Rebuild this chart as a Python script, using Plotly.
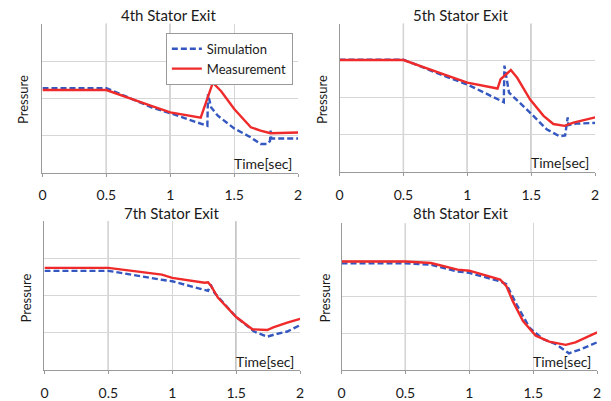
import plotly.graph_objects as go

W, H = 611, 401

titles = ["4th Stator Exit", "5th Stator Exit", "7th Stator Exit", "8th Stator Exit"]
tick_vals = [0, 0.5, 1, 1.5, 2]
tick_text = ["0", "0.5", "1", "1.5", "2"]

# Panel 1 (4th stator)
t_sim1 = [0, 0.5, 0.857, 1.0, 1.27, 1.29, 1.295, 1.32, 1.372, 1.5, 1.63, 1.706, 1.757, 1.78, 1.785, 1.79, 1.85, 2.0]
p_sim1 = [2.27, 2.27, 1.75, 1.60, 1.28, 1.26, 2.11, 1.75, 1.53, 1.19, 0.95, 0.77, 0.77, 0.85, 1.13, 0.92, 0.92, 0.92]
t_meas1 = [0, 0.5, 0.857, 1.0, 1.238, 1.333, 1.398, 1.5, 1.63, 1.706, 1.784, 1.887, 1.99, 2.0]
p_meas1 = [2.22, 2.22, 1.79, 1.62, 1.48, 2.42, 2.19, 1.71, 1.22, 1.13, 1.06, 1.06, 1.08, 1.08]

# Panel 2 (5th stator)
t_sim2 = [0, 0.5, 0.849, 1.0, 1.274, 1.285, 1.29, 1.326, 1.49, 1.62, 1.72, 1.765, 1.785, 1.79, 1.85, 2.0]
p_sim2 = [3.03, 3.03, 2.55, 2.36, 1.90, 1.88, 2.87, 2.14, 1.60, 1.15, 0.96, 0.98, 1.47, 1.26, 1.30, 1.32]
t_meas2 = [0, 0.5, 0.849, 1.0, 1.236, 1.26, 1.34, 1.39, 1.49, 1.596, 1.673, 1.76, 1.83, 1.905, 2.0]
p_meas2 = [3.02, 3.02, 2.59, 2.41, 2.25, 2.50, 2.75, 2.54, 1.96, 1.51, 1.29, 1.24, 1.33, 1.40, 1.47]

# Panel 3 (7th stator)
t_sim3 = [0, 0.5, 0.919, 1.0, 1.28, 1.30, 1.33, 1.5, 1.64, 1.743, 1.8, 1.9, 2.0]
p_sim3 = [2.67, 2.67, 2.43, 2.39, 2.13, 2.30, 2.08, 1.43, 1.04, 0.90, 0.96, 1.04, 1.21]
t_meas3 = [0, 0.5, 0.919, 1.0, 1.253, 1.28, 1.305, 1.357, 1.5, 1.627, 1.743, 1.79, 1.9, 2.0]
p_meas3 = [2.75, 2.75, 2.57, 2.48, 2.35, 2.36, 2.26, 1.95, 1.43, 1.10, 1.08, 1.15, 1.28, 1.38]

# Panel 4 (8th stator)
t_sim4 = [0, 0.5, 0.7, 0.908, 1.0, 1.241, 1.29, 1.37, 1.47, 1.575, 1.677, 1.78, 1.88, 2.0]
p_sim4 = [2.91, 2.91, 2.87, 2.69, 2.65, 2.42, 2.34, 1.79, 1.16, 0.85, 0.71, 0.46, 0.58, 0.76]
t_meas4 = [0, 0.5, 0.7, 0.908, 1.0, 1.241, 1.29, 1.34, 1.42, 1.52, 1.625, 1.754, 1.83, 2.0]
p_meas4 = [2.96, 2.96, 2.92, 2.74, 2.71, 2.47, 2.29, 1.88, 1.34, 0.94, 0.78, 0.69, 0.76, 1.03]

panels = [
    (t_sim1, p_sim1, t_meas1, p_meas1),
    (t_sim2, p_sim2, t_meas2, p_meas2),
    (t_sim3, p_sim3, t_meas3, p_meas3),
    (t_sim4, p_sim4, t_meas4, p_meas4),
]

# darker vertical grid lines per panel (as in the scanned figure)
dark_lines = [[0.5, 1.0], [0.5, 1.0, 1.5], [0.5, 1.5], [0.5]]

BLUE = "#3457c0"
RED = "#ee2a2a"
FONT = "Lato"

# pixel geometry
xdom_px = [(39, 298), (340, 599), (41, 300), (342, 601)]
ydom_px = [(24, 174), (24, 173), (223, 373), (225, 373)]
title_px = [(167, 15), (463, 15), (170, 215), (463, 215)]
ylab_px = [(20, 100), (322, 100), (22, 300), (325, 300)]

fig = go.Figure()
layout = dict(
    width=W, height=H,
    margin=dict(l=0, r=0, t=0, b=0),
    paper_bgcolor="white", plot_bgcolor="white",
    font=dict(family=FONT, size=14, color="#1a1a1a"),
    showlegend=True,
    legend=dict(x=164 / W, y=1 - 33 / H, xanchor="left", yanchor="top",
                bgcolor="white", bordercolor="#9a9a9a", borderwidth=1,
                font=dict(size=13, family=FONT, color="#1a1a1a"),
                tracegroupgap=0, itemwidth=30),
)
annotations = []
shapes = []

for i, (ts, ps, tm, pm) in enumerate(panels):
    k = "" if i == 0 else str(i + 1)
    xa, ya = "x" + k, "y" + k
    fig.add_trace(go.Scatter(x=ts, y=ps, mode="lines", name="Simulation",
                             line=dict(color=BLUE, width=2.4, dash="6px,3px"),
                             xaxis=xa, yaxis=ya, showlegend=(i == 0)))
    fig.add_trace(go.Scatter(x=tm, y=pm, mode="lines", name="Measurement",
                             line=dict(color=RED, width=2.4),
                             xaxis=xa, yaxis=ya, showlegend=(i == 0)))
    x0, x1 = xdom_px[i]
    y0, y1 = ydom_px[i]
    layout["xaxis" + k] = dict(
        domain=[x0 / W, x1 / W], anchor=ya, range=[0, 2],
        tickvals=tick_vals, ticktext=tick_text,
        showgrid=True, gridcolor="#d6d6d6", gridwidth=1,
        showline=True, linecolor="#9a9a9a", linewidth=1,
        ticks="outside", ticklen=3, tickcolor="#9a9a9a",
        tickfont=dict(size=14, family=FONT, color="#1a1a1a"),
        ticklabelstandoff=7,
        zeroline=False, fixedrange=True,
    )
    layout["yaxis" + k] = dict(
        domain=[1 - y1 / H, 1 - y0 / H], anchor=xa, range=[0, 4],
        tickvals=[0, 1, 2, 3, 4], showticklabels=False,
        showgrid=True, gridcolor="#d6d6d6", gridwidth=1,
        showline=True, linecolor="#9a9a9a", linewidth=1,
        zeroline=False, fixedrange=True,
    )
    for xv in dark_lines[i]:
        shapes.append(dict(type="line", xref=xa, yref=ya + " domain",
                           x0=xv, x1=xv, y0=0, y1=1, layer="below",
                           line=dict(color="#7a7a7a", width=1.2)))
    tx, ty = title_px[i]
    annotations.append(dict(text=titles[i], xref="paper", yref="paper",
                            x=tx / W, y=1 - ty / H, xanchor="center", yanchor="middle",
                            showarrow=False, font=dict(size=15, family=FONT, color="#1a1a1a")))
    lx, ly = ylab_px[i]
    annotations.append(dict(text="Pressure", xref="paper", yref="paper",
                            x=lx / W, y=1 - ly / H, xanchor="center", yanchor="middle",
                            textangle=-90, showarrow=False,
                            font=dict(size=13, family=FONT, color="#1a1a1a")))
    annotations.append(dict(text="Time[sec]", xref=xa + " domain", yref=ya + " domain",
                            x=0.985, y=0.06, xanchor="right", yanchor="middle",
                            showarrow=False, font=dict(size=14, family=FONT, color="#1a1a1a")))

layout["annotations"] = annotations
layout["shapes"] = shapes
fig.update_layout(**layout)
fig.write_html("out.html")
